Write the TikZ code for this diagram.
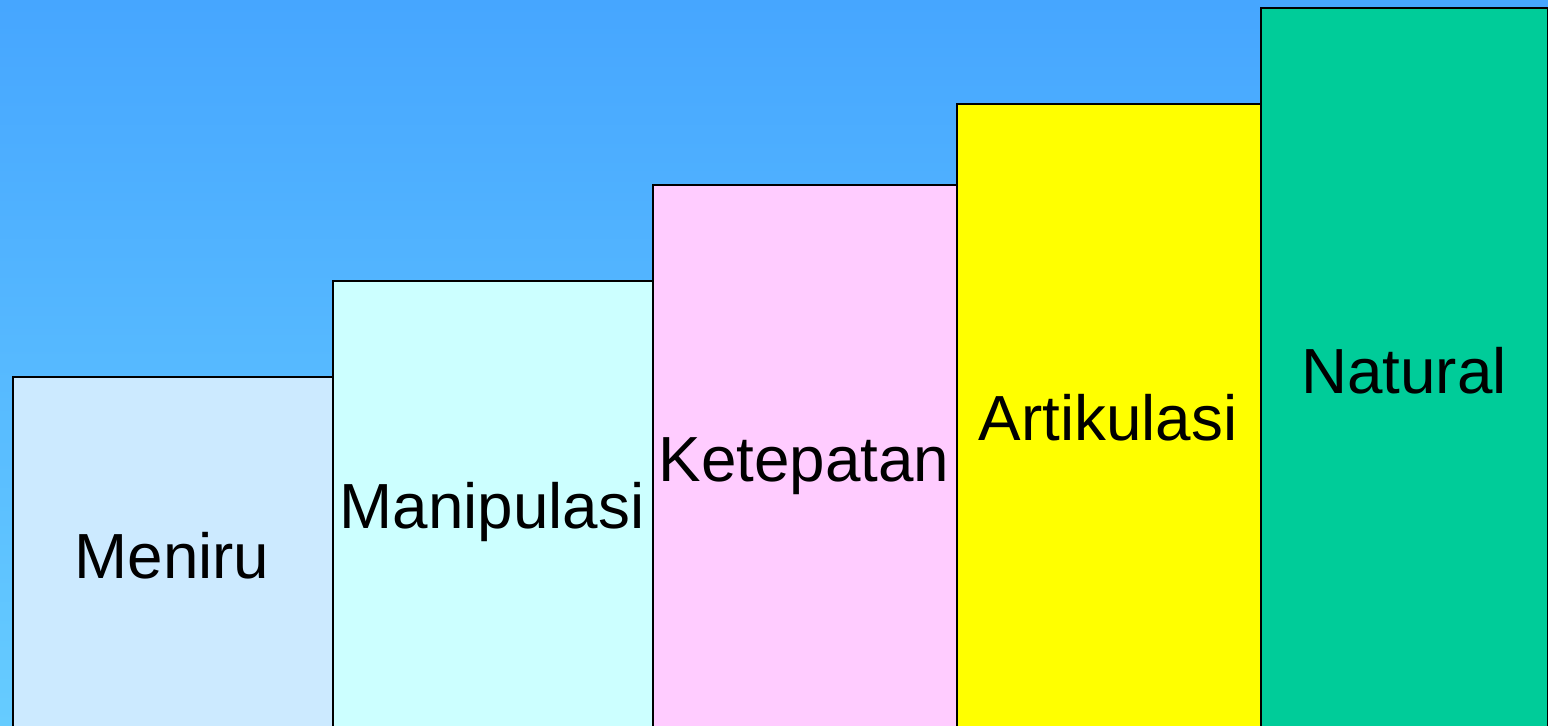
\documentclass[tikz,border=0pt]{standalone}
\usepackage{fontspec}
\setmainfont{Liberation Sans}
\definecolor{bgtop}{HTML}{46A6FF}
\definecolor{bgbot}{HTML}{66CCFF}
\definecolor{c1}{HTML}{CCEAFF}
\definecolor{c2}{HTML}{CCFFFF}
\definecolor{c3}{HTML}{FFCCFF}
\definecolor{c4}{HTML}{FFFF00}
\definecolor{c5}{HTML}{00CC99}
\begin{document}
\begin{tikzpicture}[x=1bp,y=-1bp,
  stepbox/.style={draw=black,line width=2bp,anchor=north west,inner sep=0pt,minimum height=760bp},
  lbl/.style={anchor=base,inner sep=0pt,font=\fontsize{64}{70}\selectfont}]
\useasboundingbox (0,0) rectangle (1548,726);
\clip (0,0) rectangle (1548,726);
\shade[top color=bgtop,bottom color=bgbot] (0,0) rectangle (1548,726);
\node[stepbox,fill=c1,minimum width=320bp] (r1) at (11.5,375.5) {};
\node[stepbox,fill=c2,minimum width=320bp] (r2) at (331.5,279.5) {};
\node[stepbox,fill=c3,minimum width=304bp] (r3) at (651.5,183.5) {};
\node[stepbox,fill=c4,minimum width=304bp] (r4) at (955.5,103.5) {};
\node[stepbox,fill=c5,minimum width=287bp] (r5) at (1259.5,7.5) {};
\node[lbl] (t1) at (172,578) {Meniru};
\node[lbl] (t2) at (492,528) {Manipulasi};
\node[lbl] (t3) at (804,481) {Ketepatan};
\node[lbl] (t4) at (1108,440) {Artikulasi};
\node[lbl] (t5) at (1404,393) {Natural};
\end{tikzpicture}
\end{document}
